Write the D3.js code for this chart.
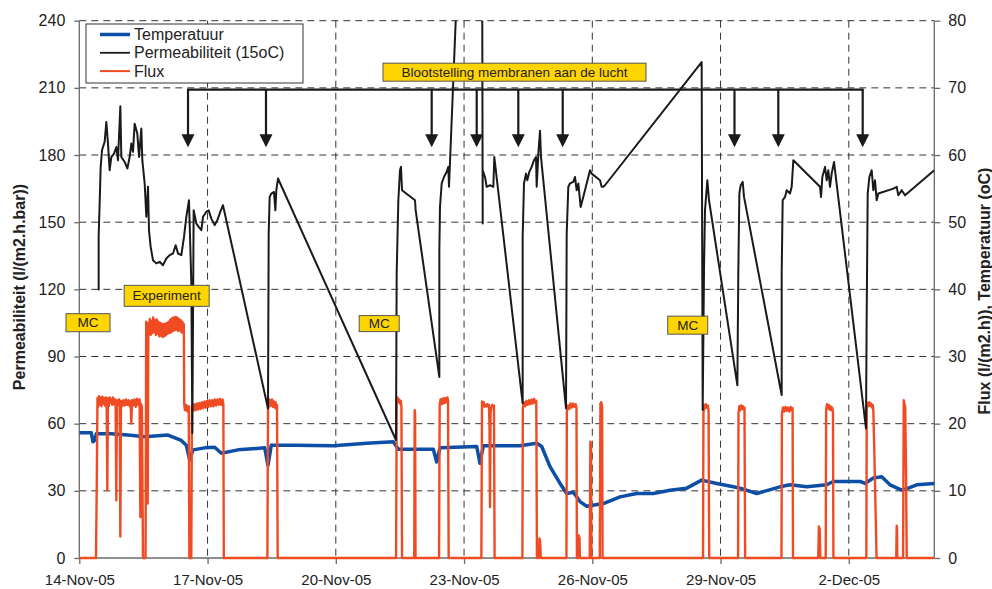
<!DOCTYPE html>
<html>
<head>
<meta charset="utf-8">
<script src="https://cdnjs.cloudflare.com/ajax/libs/d3/7.8.5/d3.min.js"></script>
<style>
body { margin: 0; background: #fff; }
svg { font-family: "Liberation Sans", Arial, sans-serif; }
</style>
</head>
<body>
<svg width="992" height="589"></svg>
<script>
// tick labels
var leftTicks = [0, 30, 60, 90, 120, 150, 180, 210, 240];
var rightTicks = [0, 10, 20, 30, 40, 50, 60, 70, 80];
var dateTicks = ["14-Nov-05", "17-Nov-05", "20-Nov-05", "23-Nov-05", "26-Nov-05", "29-Nov-05", "2-Dec-05"];

// series: [days since 14-Nov-05, value]
var temperatuur = [[0,18.65],[0.281,18.65],[0.32,17.3],[0.36,17.5],[0.398,18.5],[0.749,18.5],[1.139,18.3],[1.529,18.05],
  [2.075,18.3],[2.386,17.5],[2.503,16.8],[2.582,14.6],[2.66,16.1],[2.933,16.4],[3.167,16.5],[3.322,15.6],[3.712,16.1],
  [4.337,16.4],[4.414,13.8],[4.491,16.8],[5.039,16.8],[5.942,16.7],[6.723,17.1],[7.345,17.3],[7.462,16.2],[8.281,16.2],
  [8.36,14.3],[8.437,16.4],[9.296,16.6],[9.373,14.1],[9.45,16.7],[10.309,16.7],[10.699,17.1],[10.816,16.6],[11.011,13.6],
  [11.245,11.1],[11.401,9.6],[11.556,9.8],[11.712,8.4],[11.869,7.7],[12.258,8.1],[12.648,9.1],[13.039,9.6],[13.427,9.6],
  [13.818,10.1],[14.208,10.4],[14.559,11.6],[14.91,11.1],[15.298,10.6],[15.455,10.4],[15.846,9.6],[16.391,10.6],
  [16.625,10.9],[17.015,10.6],[17.483,10.9],[17.637,11.4],[18.262,11.4],[18.379,11.1],[18.573,11.9],[18.769,12.1],
  [18.964,10.9],[19.238,10.1],[19.392,10.4],[19.588,10.9],[20,11.1]];

var permeabiliteit = [[0.453,119.6],[0.453,144.2],[0.476,158.3],[0.5,174.7],[0.531,182.1],[0.593,185.9],[0.632,194.8],
  [0.671,185.1],[0.71,173.2],[0.749,179.1],[0.812,180.6],[0.866,183.6],[0.905,177.7],[0.96,201.8],[0.983,179.1],
  [1.061,176.9],[1.124,174],[1.178,179.1],[1.217,185.1],[1.256,181.4],[1.295,194],[1.357,189.6],[1.397,179.1],
  [1.451,191.8],[1.474,177.7],[1.529,167.3],[1.568,152.4],[1.607,165.8],[1.63,146.4],[1.669,139],[1.724,133],
  [1.802,131.6],[1.88,132.3],[1.958,130.8],[2.036,133.8],[2.114,135.3],[2.192,136],[2.254,139.7],[2.309,136],
  [2.387,135.3],[2.449,143.4],[2.504,152.4],[2.566,159.8],[2.621,122.6],[2.644,55.7],[2.675,155.3],[2.738,149.4],
  [2.792,147.9],[2.855,146.4],[2.894,152.4],[2.971,154.6],[3.026,155.3],[3.088,151.6],[3.167,148.7],[3.229,150.9],
  [3.284,153.9],[3.361,157.6],[4.414,66.8],[4.43,144.9],[4.453,161.3],[4.492,162.8],[4.554,163.5],[4.586,155.3],
  [4.609,164.3],[4.648,169.5],[7.408,52.7],[7.424,127.1],[7.463,159.8],[7.502,173.2],[7.525,174.7],[7.549,164.3],
  [7.853,159.8],[7.868,155.3],[8.422,80.9],[8.422,137.5],[8.437,156.8],[8.477,167.3],[8.531,170.2],[8.594,172.5],
  [8.632,174.7],[8.648,165.8],[9.397,520],[9.436,149.4],[9.436,173.2],[9.49,170.2],[9.529,165.8],[9.607,166.5],
  [9.685,165.8],[9.708,179.1],[10.371,69.1],[10.371,143.4],[10.402,167.3],[10.449,171.7],[10.48,168.7],[10.527,172.5],
  [10.582,174.7],[10.636,177.7],[10.683,179.1],[10.699,165.8],[10.738,180.7],[10.777,190.8],[10.8,179.1],[11.385,66.8],
  [11.401,144.9],[11.439,165.8],[11.478,167.3],[11.556,168],[11.595,170.2],[11.634,164.3],[11.673,167.3],[11.728,156.8],
  [11.829,164.3],[11.946,173.2],[11.985,171.7],[12.18,168.7],[12.219,165.8],[12.258,165.8],[12.297,166.5],[14.558,221.5],
  [14.582,66.1],[14.613,128.6],[14.636,155.3],[14.691,168.7],[14.73,159.8],[15.393,77.2],[15.416,128.6],[15.44,162.8],
  [15.471,166.5],[15.518,168],[15.549,161.3],[16.43,72.8],[16.43,127.1],[16.453,159.8],[16.508,161.3],[16.547,164.3],
  [16.625,162.8],[16.664,165.8],[16.703,177.7],[17.327,165.8],[17.35,161.3],[17.381,170.2],[17.444,174.7],[17.483,168.7],
  [17.521,173.2],[17.56,165.8],[17.599,171.7],[17.654,176.9],[18.402,57.9],[18.418,107.7],[18.442,162.8],[18.481,170.2],
  [18.535,173.2],[18.574,164.3],[18.613,168.7],[18.652,159.8],[18.691,162.8],[19.042,165],[19.12,165.8],[19.159,162],
  [19.237,164.3],[19.315,162],[20,173.2]];

var flux = [[0,0],[0.39,0],[0.41,12],[0.425,23.8],[0.44,22.5],[0.46,24.1],[0.48,22.8],[0.5,23.9],[0.52,22.6],[0.54,24],
  [0.56,23],[0.58,23.8],[0.6,22.7],[0.62,23.9],[0.64,22.9],[0.655,10.1],[0.67,23.8],[0.69,22.6],[0.71,23.9],[0.73,23.1],
  [0.75,23.7],[0.77,22.8],[0.79,23.9],[0.81,22.9],[0.83,23.6],[0.85,22.7],[0.866,8.6],[0.88,23.5],[0.9,22.8],[0.93,23.6],
  [0.945,22.7],[0.96,3.2],[0.975,23.4],[1,22.6],[1.03,23.5],[1.06,22.7],[1.09,23.6],[1.12,22.8],[1.15,23.5],[1.18,22.6],
  [1.2,23.4],[1.217,20],[1.235,23.5],[1.26,22.7],[1.29,23.6],[1.32,22.5],[1.35,23.7],[1.38,22.8],[1.41,23.6],[1.428,6.1],
  [1.44,23],[1.465,22.5],[1.49,0],[1.55,0],[1.565,35.2],[1.58,33.8],[1.6,8.1],[1.615,35],[1.63,33.4],[1.65,35.6],
  [1.67,33.2],[1.69,35.3],[1.71,33.5],[1.73,35.8],[1.75,33.6],[1.77,35.4],[1.79,33.2],[1.81,35.5],[1.83,33.4],[1.85,35.2],
  [1.87,33],[1.89,35],[1.91,33.1],[1.93,34.9],[1.95,32.9],[1.97,34.8],[1.99,33],[2.01,34.9],[2.03,33.2],[2.05,35],
  [2.07,33.4],[2.09,35.2],[2.11,33.5],[2.13,35.5],[2.15,33.6],[2.17,35.7],[2.19,33.8],[2.21,35.8],[2.23,33.9],[2.25,35.9],
  [2.27,34],[2.29,35.8],[2.31,33.8],[2.33,35.6],[2.35,33.9],[2.37,35.4],[2.39,33.6],[2.41,35.2],[2.43,33.5],[2.445,34.8],
  [2.455,23],[2.47,22],[2.5,22.8],[2.53,21.8],[2.56,22.6],[2.575,0],[2.62,0],[2.635,22.6],[2.66,21.9],[2.69,22.9],
  [2.72,22],[2.75,23],[2.78,22.1],[2.81,23.1],[2.84,22.2],[2.87,23.2],[2.9,22.3],[2.93,23.3],[2.96,22.4],[2.99,23.4],
  [3.02,22.5],[3.05,23.5],[3.08,22.6],[3.11,23.5],[3.14,22.6],[3.17,23.6],[3.2,22.7],[3.23,23.6],[3.26,22.8],[3.29,23.7],
  [3.32,22.8],[3.35,23.6],[3.37,22.9],[3.38,0],
  [4.4,0],[4.415,22.8],[4.43,23.7],[4.45,22.6],[4.47,23.5],[4.49,22.7],[4.51,23.6],[4.53,22.5],[4.55,23.3],[4.57,22.4],
  [4.59,23.2],[4.61,22.2],[4.625,22.8],[4.64,0],
  [7.41,0],[7.425,23.6],[7.44,23.9],[7.46,23.2],[7.48,23.6],[7.5,23],[7.52,23.4],[7.535,22.5],[7.55,0],
  [7.835,0],[7.845,22],[7.855,21.5],[7.865,0],
  [8.415,0],[8.43,22.8],[8.45,23.6],[8.47,22.9],[8.49,23.7],[8.51,23],[8.53,23.8],[8.55,23.1],[8.57,23.8],[8.59,23.2],
  [8.61,23.9],[8.625,23.4],[8.64,0],
  [9.405,0],[9.42,23.3],[9.44,23],[9.46,23.2],[9.48,22.5],[9.5,22.8],[9.52,22.6],[9.54,22.9],[9.56,22.6],[9.58,22.8],
  [9.595,20],[9.607,7.6],[9.62,21.5],[9.64,22.5],[9.66,22.8],[9.68,22.6],[9.7,22.7],[9.715,0],
  [10.365,0],[10.375,22.3],[10.4,23.2],[10.43,22.6],[10.46,23.4],[10.49,22.8],[10.52,23.5],[10.55,22.9],[10.58,23.6],
  [10.61,23],[10.64,23.7],[10.67,23.1],[10.69,23.4],[10.705,0],
  [10.75,0],[10.765,2.9],[10.78,2.5],[10.795,0],
  [11.395,0],[11.405,21.8],[11.43,22.7],[11.46,22.2],[11.49,23],[11.52,22.4],[11.55,23],[11.58,22.5],[11.61,22.9],
  [11.63,22.4],[11.64,0],
  [11.67,0],[11.68,3.4],[11.7,3],[11.71,0],
  [11.94,0],[11.955,17.3],[11.97,16.8],[11.98,0],
  [12.175,0],[12.19,23],[12.21,23.2],[12.23,22.5],[12.24,0],
  [14.59,0],[14.6,21.5],[14.62,22.8],[14.64,22.3],[14.66,22.9],[14.68,22.4],[14.7,22.7],[14.72,22],[14.735,0],
  [15.41,0],[15.42,21.6],[15.44,22.6],[15.46,22],[15.48,22.7],[15.5,22.2],[15.52,22.6],[15.54,22.1],[15.56,22.4],[15.575,0],
  [16.425,0],[16.435,21.5],[16.46,22.4],[16.49,21.8],[16.52,22.5],[16.55,21.9],[16.58,22.4],[16.61,21.8],[16.64,22.5],
  [16.67,22],[16.685,22.3],[16.695,0],
  [17.285,0],[17.3,4.7],[17.32,4.3],[17.335,0],
  [17.46,0],[17.47,22],[17.49,22.9],[17.51,22.3],[17.53,22.8],[17.55,22.1],[17.57,22.6],[17.59,22],[17.61,22.4],
  [17.63,21.8],[17.64,0],
  [18.41,0],[18.42,22.3],[18.44,23.1],[18.46,22.6],[18.48,23.2],[18.5,22.7],[18.52,23],[18.54,22.4],[18.56,22.8],
  [18.575,21.8],[18.6,15],[18.65,0],
  [19.11,0],[19.12,4.8],[19.13,4.2],[19.135,0],
  [19.27,0],[19.285,23.5],[19.3,23],[19.32,22.5],[19.34,12],[19.355,0],[20,0]];

// annotations (days since 14-Nov-05)
var arrowDays = [2.543, 4.367, 8.243, 9.296, 10.269, 11.308, 15.326, 16.351, 18.325];
var mcDays = [0.204, 7.015, 14.232];

var width = 992, height = 589;
var margin = {top: 20.7, right: 57.7, bottom: 31, left: 79.3};

var svg = d3.select('svg');

var t0 = new Date(2005, 10, 14);
function toDate(d) { return new Date(t0.getTime() + d * 864e5); }
var parseTick = d3.timeParse("%d-%b-%y");

var x = d3.scaleTime()
    .domain([t0, new Date(2005, 11, 4)])
    .range([margin.left, width - margin.right]);
var yL = d3.scaleLinear().domain([0, 240]).range([height - margin.bottom, margin.top]);
var yR = d3.scaleLinear().domain([0, 80]).range([height - margin.bottom, margin.top]);

var x0 = margin.left, x1 = width - margin.right, yTop = margin.top, yBot = height - margin.bottom;

// dashed grid
svg.append("g").selectAll("line")
    .data(leftTicks.slice(1))
    .enter().append("line")
    .attr("x1", x0).attr("x2", x1)
    .attr("y1", function(d) { return yL(d); })
    .attr("y2", function(d) { return yL(d); })
    .attr("stroke", "#333").attr("stroke-width", 1).attr("stroke-dasharray", "7,5");

svg.append("g").selectAll("line")
    .data(dateTicks.slice(1))
    .enter().append("line")
    .attr("x1", function(d) { return x(parseTick(d)); })
    .attr("x2", function(d) { return x(parseTick(d)); })
    .attr("y1", yTop).attr("y2", yBot)
    .attr("stroke", "#333").attr("stroke-width", 1).attr("stroke-dasharray", "7,5");

// axes
var axL = svg.append("g")
    .attr("transform", "translate(" + x0 + ",0)")
    .call(d3.axisLeft(yL).tickValues(leftTicks).tickSize(5).tickPadding(9));
var axR = svg.append("g")
    .attr("transform", "translate(" + x1 + ",0)")
    .call(d3.axisRight(yR).tickValues(rightTicks).tickSize(6).tickPadding(8));
var axB = svg.append("g")
    .attr("transform", "translate(0," + yBot + ")")
    .call(d3.axisBottom(x).tickValues(dateTicks.map(parseTick))
        .tickFormat(function(d, i) { return dateTicks[i]; })
        .tickSize(6).tickPadding(10));

[axL, axR, axB].forEach(function(g) {
    g.select(".domain").attr("stroke", "#6b6b6b").attr("stroke-width", 1.3);
    g.selectAll(".tick line").attr("stroke", "#6b6b6b").attr("stroke-width", 1.3);
    g.selectAll("text").attr("fill", "#222").style("font-size", "16px")
        .style("font-family", '"Liberation Sans", Arial, sans-serif');
});
axB.selectAll("text").style("font-size", "15px");
axL.select(".domain").attr("d", "M0," + yBot + "V" + yTop);
axR.select(".domain").attr("d", "M0," + yBot + "V" + yTop);
axB.select(".domain").attr("d", "M" + x0 + ",0H" + x1);

// axis titles
svg.append("text")
    .attr("transform", "translate(19,287) rotate(-90)")
    .attr("text-anchor", "middle").attr("dominant-baseline", "central")
    .style("font-size", "16px").style("font-weight", "bold").attr("fill", "#222")
    .text("Permeabiliteit (l/(m2.h.bar))");
svg.append("text")
    .attr("transform", "translate(984,291) rotate(-90)")
    .attr("text-anchor", "middle").attr("dominant-baseline", "central")
    .style("font-size", "16px").style("font-weight", "bold").attr("fill", "#222")
    .text("Flux (l/(m2.h)), Temperatuur (oC)");

// clip
svg.append("clipPath").attr("id", "plot")
    .append("rect").attr("x", x0).attr("y", yTop).attr("width", x1 - x0).attr("height", yBot - yTop + 4);

var plot = svg.append("g").attr("clip-path", "url(#plot)");

var lineT = d3.line().x(function(d) { return x(toDate(d[0])); }).y(function(d) { return yR(d[1]); });
var lineP = d3.line().x(function(d) { return x(toDate(d[0])); }).y(function(d) { return yL(d[1]); });

plot.append("path").datum(temperatuur).attr("d", lineT)
    .attr("fill", "none").attr("stroke", "#0d4ea6").attr("stroke-width", 3.5).attr("stroke-linejoin", "round");
plot.append("path").datum(flux).attr("d", lineT)
    .attr("fill", "none").attr("stroke", "#f04b23").attr("stroke-width", 2.4).attr("stroke-linejoin", "round");
plot.append("path").datum(permeabiliteit).attr("d", lineP)
    .attr("fill", "none").attr("stroke", "#1a1a1a").attr("stroke-width", 2).attr("stroke-linejoin", "round");

// arrows
var arrowTop = 209.2, arrowTip = 183.5;
var ann = svg.append("g");
ann.append("line")
    .attr("x1", x(toDate(d3.min(arrowDays))) - 1).attr("x2", x(toDate(d3.max(arrowDays))) + 1)
    .attr("y1", yL(arrowTop)).attr("y2", yL(arrowTop))
    .attr("stroke", "#1a1a1a").attr("stroke-width", 2.4);
ann.selectAll(".arr")
    .data(arrowDays)
    .enter().append("line")
    .attr("x1", function(d) { return x(toDate(d)); })
    .attr("x2", function(d) { return x(toDate(d)); })
    .attr("y1", yL(arrowTop)).attr("y2", yL(arrowTip) - 10)
    .attr("stroke", "#1a1a1a").attr("stroke-width", 2.2);
ann.selectAll("path")
    .data(arrowDays)
    .enter().append("path")
    .attr("d", function(d) {
        var ax = x(toDate(d)), ay = yL(arrowTip);
        return "M" + (ax - 6.5) + "," + (ay - 13) + "L" + (ax + 6.5) + "," + (ay - 13) + "L" + ax + "," + ay + "Z";
    })
    .attr("fill", "#1a1a1a");

// yellow labels
function label(cx, cy, w, h, txt) {
    var g = svg.append("g");
    g.append("rect").attr("x", cx - w / 2).attr("y", cy - h / 2).attr("width", w).attr("height", h)
        .attr("fill", "#ffd500").attr("stroke", "#555").attr("stroke-width", 1);
    g.append("text").attr("x", cx).attr("y", cy).attr("text-anchor", "middle").attr("dominant-baseline", "central")
        .style("font-size", "13.5px").attr("fill", "#222").text(txt);
}
label(x(toDate(10.18)), yL(217), 263, 18, "Blootstelling membranen aan de lucht");
label(x(toDate(2.044)), yL(117.1), 85, 21, "Experiment");
label(x(toDate(mcDays[0])), yL(105.1), 44, 18, "MC");
label(x(toDate(mcDays[1])), yL(104.7), 40, 16, "MC");
label(x(toDate(mcDays[2])), yL(104), 40, 18, "MC");

// legend
var leg = svg.append("g");
leg.append("rect").attr("x", 86).attr("y", 24).attr("width", 217).attr("height", 59)
    .attr("fill", "#fff").attr("stroke", "#333").attr("stroke-width", 1);
var legItems = [
    {name: "Temperatuur", color: "#0d4ea6", w: 3.5},
    {name: "Permeabiliteit (15oC)", color: "#1a1a1a", w: 1.8},
    {name: "Flux", color: "#f04b23", w: 2}
];
legItems.forEach(function(d, i) {
    var ly = 34.5 + i * 18.3;
    leg.append("line").attr("x1", 100).attr("x2", 130).attr("y1", ly).attr("y2", ly)
        .attr("stroke", d.color).attr("stroke-width", d.w);
    leg.append("text").attr("x", 134).attr("y", ly).attr("dominant-baseline", "central")
        .style("font-size", "16px").attr("fill", "#222").text(d.name);
});
</script>
</body>
</html>
